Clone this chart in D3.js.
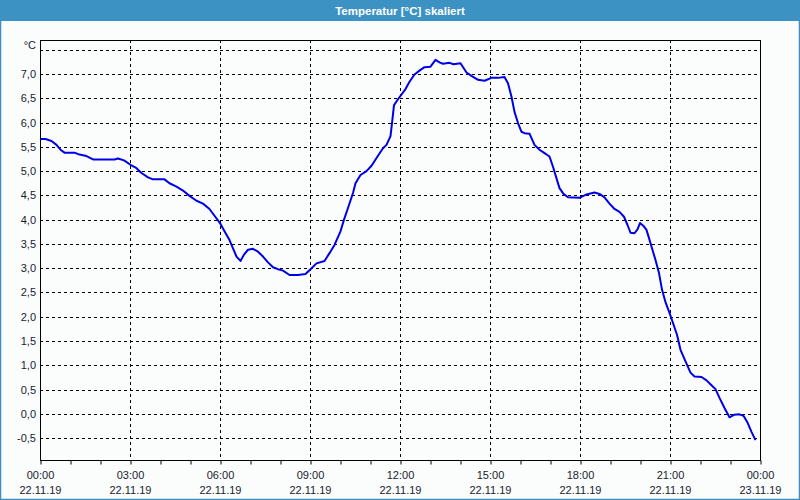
<!DOCTYPE html>
<html>
<head>
<meta charset="utf-8">
<script src="https://cdn.jsdelivr.net/npm/d3@7"></script>
<style>
  html, body { margin: 0; padding: 0; background: #fbfdfd; }
  svg { display: block; }
</style>
</head>
<body>
<svg id="chart" width="800" height="500"></svg>
<script>
// ---- data ----
const title = "Temperatur [°C] skaliert";
const unitLabel = "°C";
// minutes since 22.11.19 00:00
const minutes = [1, 11, 23, 33, 41, 49, 69, 79, 93, 106, 149, 156, 168, 181, 193, 203, 216, 226, 249, 259, 273, 286, 299, 313, 326, 339, 349, 360,
  369, 379, 386, 393, 401, 408, 416, 426, 436, 446, 456, 466, 476, 486, 499, 516, 531, 541, 553, 569, 579, 589, 601, 608, 617, 626, 631, 641, 653, 663, 675, 686, 693, 701, 704, 708, 716,
  731, 739, 749, 759, 769, 781, 791, 799, 806, 819, 827, 841, 853, 863, 876, 889, 903, 916, 929, 936, 943, 949, 956, 963, 969, 979, 989, 999, 1009, 1019, 1026, 1033, 1039, 1047, 1056, 1079,
  1093, 1109, 1119, 1129, 1139, 1149, 1159, 1168, 1175, 1181, 1189, 1195, 1200, 1207, 1213, 1218, 1224, 1231, 1238, 1244, 1251, 1259, 1267, 1274, 1281, 1291, 1301, 1309, 1323, 1333, 1343, 1351, 1359, 1369, 1379, 1388, 1399, 1407, 1415, 1423, 1431];
const temps = [5.66, 5.66, 5.62, 5.54, 5.44, 5.38, 5.38, 5.34, 5.31, 5.24, 5.24, 5.26, 5.22, 5.13, 5.06, 4.96, 4.87, 4.83, 4.83, 4.75, 4.68, 4.60, 4.49, 4.39, 4.33, 4.22, 4.08, 3.93,
  3.76, 3.58, 3.41, 3.24, 3.15, 3.28, 3.38, 3.40, 3.34, 3.24, 3.12, 3.02, 2.98, 2.95, 2.86, 2.86, 2.88, 2.98, 3.10, 3.15, 3.31, 3.48, 3.76, 4.00, 4.27, 4.55, 4.75, 4.92, 5.00, 5.11, 5.30, 5.47, 5.54, 5.72, 5.99, 6.36, 6.48,
  6.69, 6.84, 6.99, 7.07, 7.14, 7.15, 7.29, 7.24, 7.21, 7.23, 7.20, 7.22, 7.03, 6.96, 6.88, 6.86, 6.92, 6.92, 6.94, 6.81, 6.53, 6.22, 5.99, 5.81, 5.78, 5.77, 5.54, 5.44, 5.37, 5.30, 5.09, 4.85, 4.65, 4.53, 4.46, 4.45,
  4.52, 4.56, 4.53, 4.46, 4.33, 4.22, 4.16, 4.06, 3.89, 3.73, 3.72, 3.80, 3.93, 3.87, 3.79, 3.62, 3.41, 3.17, 2.90, 2.56, 2.30, 2.08, 1.84, 1.63, 1.32, 1.08, 0.85, 0.77, 0.76, 0.69, 0.59, 0.51, 0.33, 0.12, -0.07, -0.02, -0.01, -0.04, -0.18, -0.37, -0.54];
const yTicks = [-0.5, 0, 0.5, 1, 1.5, 2, 2.5, 3, 3.5, 4, 4.5, 5, 5.5, 6, 6.5, 7];
const yGridTop = 7.5;
const xTickHours = [0, 3, 6, 9, 12, 15, 18, 21, 24];
const xTimeLabels = ["00:00", "03:00", "06:00", "09:00", "12:00", "15:00", "18:00", "21:00", "00:00"];
const xDateLabels = ["22.11.19", "22.11.19", "22.11.19", "22.11.19", "22.11.19", "22.11.19", "22.11.19", "22.11.19", "23.11.19"];

// ---- layout ----
const W = 800, H = 500;
const L = 40, R = 760, T = 40, B = 460;
const svg = d3.select("#chart");
const font = "'Liberation Sans', Arial, sans-serif";
const textCol = "#1a1a2e";

const x = d3.scaleLinear().domain([0, 24 * 60]).range([L, R]);
const y = d3.scaleLinear().domain([-0.95, 7.70]).range([B, T]);

// outer border & title bar
svg.append("rect").attr("x", 0).attr("y", 0).attr("width", W).attr("height", H)
  .attr("fill", "#fbfdfd").attr("stroke", "#3d8fc3").attr("stroke-width", 2.5);
svg.append("rect").attr("x", 0).attr("y", 0).attr("width", W).attr("height", 21).attr("fill", "#3d92c4");
svg.append("text").attr("x", W / 2).attr("y", 15).attr("text-anchor", "middle")
  .attr("fill", "#ffffff").attr("font-family", font).attr("font-weight", "bold").attr("font-size", "11.5px")
  .text(title);

// grid
const g = svg.append("g");
g.selectAll("line.hg").data(yTicks.concat([yGridTop])).enter().append("line")
  .attr("x1", L).attr("x2", R)
  .attr("y1", d => Math.round(y(d)) + 0.5).attr("y2", d => Math.round(y(d)) + 0.5)
  .attr("stroke", "#000").attr("stroke-width", 1).attr("stroke-dasharray", "3,3");
g.selectAll("line.vg").data(xTickHours.slice(1, -1)).enter().append("line")
  .attr("x1", d => Math.round(x(d * 60)) + 0.5).attr("x2", d => Math.round(x(d * 60)) + 0.5)
  .attr("y1", T).attr("y2", B)
  .attr("stroke", "#000").attr("stroke-width", 1).attr("stroke-dasharray", "3,3");

// frame
svg.append("rect").attr("x", L + 0.5).attr("y", T + 0.5).attr("width", R - L).attr("height", B - T)
  .attr("fill", "none").attr("stroke", "#000").attr("stroke-width", 1);

// x axis minor ticks (hourly)
const xAxis = d3.axisBottom(x).tickValues(d3.range(0, 25).map(h => h * 60)).tickSize(4).tickFormat("");
const xa = svg.append("g").attr("transform", `translate(0.5,${B + 0.5})`).call(xAxis);
xa.select(".domain").remove();
xa.selectAll("line").attr("stroke", "#000");

// x labels
const xl = svg.append("g").attr("font-family", font).attr("font-size", "11px").attr("fill", textCol).attr("text-anchor", "middle");
xl.selectAll("text.t").data(xTickHours).enter().append("text")
  .attr("x", d => x(d * 60) + 0.5).attr("y", 479).text((d, i) => xTimeLabels[i]);
xl.selectAll("text.d").data(xTickHours).enter().append("text")
  .attr("x", d => x(d * 60) + 0.5).attr("y", 494).text((d, i) => xDateLabels[i]);

// y labels
const fmt = v => v.toFixed(1).replace(".", ",");
const yl = svg.append("g").attr("font-family", font).attr("font-size", "11px").attr("fill", textCol).attr("text-anchor", "end");
yl.selectAll("text").data(yTicks).enter().append("text")
  .attr("x", 36).attr("y", d => y(d) + 4).text(d => fmt(d));
yl.append("text").attr("x", 36).attr("y", y(yGridTop) - 1).text(unitLabel);

// line
const data = minutes.map((m, i) => ({ m, v: temps[i] }));
svg.append("path").datum(data)
  .attr("fill", "none").attr("stroke", "#0000e8").attr("stroke-width", 2).attr("stroke-linejoin", "round")
  .attr("d", d3.line().x(d => x(d.m)).y(d => y(d.v)));
</script>
</body>
</html>
